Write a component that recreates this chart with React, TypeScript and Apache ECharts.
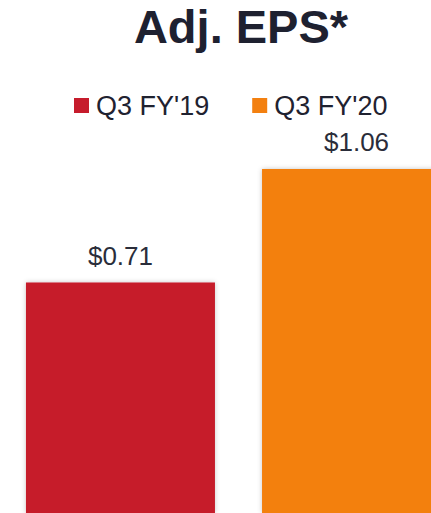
import React, { useEffect, useRef } from "react";
import * as echarts from "echarts";

const categories = ["Adj. EPS"];
const seriesNames = ["Q3 FY'19", "Q3 FY'20"];
const fy19Values = [0.71];
const fy20Values = [1.06];
const colors = ["#C61C2C", "#F38010"];

const FONT = "'Liberation Sans', Arial, sans-serif";

export default function App() {
  const ref = useRef<HTMLDivElement>(null);
  useEffect(() => {
    if (!ref.current) return;
    const chart = echarts.init(ref.current, null, { renderer: "svg" });
    const mk = (name: string, data: number[], color: string) => ({
      name,
      type: "bar",
      data,
      barWidth: 189,
      barGap: "24.9%",
      itemStyle: {
        color,
        shadowBlur: 5,
        shadowColor: "rgba(0,0,0,0.22)",
      },
      label: {
        show: true,
        position: "top",
        distance: 14,
        formatter: (p: any) => "$" + Number(p.value).toFixed(2),
        fontSize: 26,
        fontFamily: FONT,
        color: "#2a2d3a",
      },
    });
    chart.setOption({
      animation: false,
      backgroundColor: "#ffffff",
      title: {
        text: "Adj. EPS*",
        left: 241,
        textAlign: "center",
        top: 3,
        padding: 0,
        textStyle: {
          fontSize: 47,
          fontWeight: "bold",
          fontFamily: FONT,
          color: "#1e2130",
        },
      },
      legend: {
        data: seriesNames,
        left: 74,
        top: 92,
        padding: 0,
        icon: "rect",
        itemWidth: 15,
        itemHeight: 15,
        itemGap: 43,
        textStyle: {
          fontSize: 27,
          fontFamily: FONT,
          color: "#1f2230",
          padding: [0, 0, 0, 2],
        },
      },
      grid: { left: 0, right: 0, top: 91, height: 423.4 },
      xAxis: { type: "category", data: categories, show: false },
      yAxis: { type: "value", min: 0, max: 1.3, show: false },
      series: [
        mk(seriesNames[0], fy19Values, colors[0]),
        mk(seriesNames[1], fy20Values, colors[1]),
      ],
    });
    return () => chart.dispose();
  }, []);
  return (
    <div
      style={{
        position: "fixed",
        left: 0,
        top: 0,
        width: 431,
        height: 513,
        overflow: "hidden",
        background: "#fff",
      }}
    >
      <div ref={ref} style={{ width: 477, height: 513 }} />
    </div>
  );
}
